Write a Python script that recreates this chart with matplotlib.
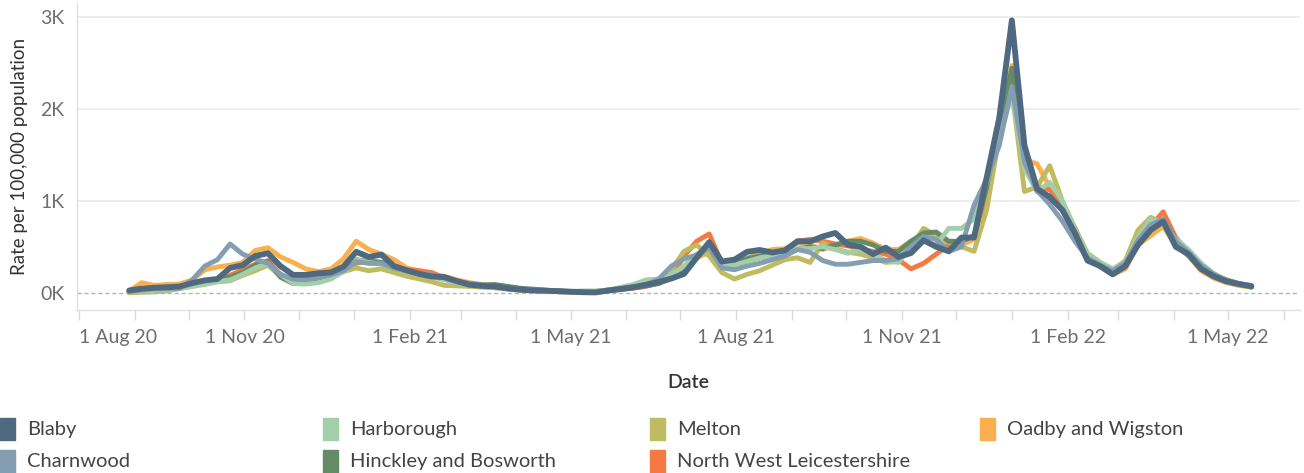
import matplotlib
matplotlib.use('Agg')
import matplotlib.pyplot as plt
import matplotlib.dates as mdates
from matplotlib.patches import Rectangle
from matplotlib.ticker import FuncFormatter, FixedLocator
import pandas as pd

# weekly readings, first week ending 29 Aug 2020
first_date = '2020-08-29'
n_weeks = 90

districts = ['Blaby', 'Charnwood', 'Harborough', 'Hinckley and Bosworth',
             'Melton', 'North West Leicestershire', 'Oadby and Wigston']
colours = ['#4f6980', '#849db1', '#a2ceaa', '#638b66', '#bfbb60', '#f47942', '#fbb04e']

blaby = [25, 45, 55, 60, 68, 105, 135, 150, 270, 300,
         400, 430, 290, 195, 195, 212, 221, 285, 445, 390,
         415, 290, 245, 205, 177, 170, 125, 87, 75, 68,
         48, 35, 26, 22, 18, 12, 6, 4, 25, 42,
         60, 88, 118, 155, 205, 380, 550, 340, 360, 445,
         465, 438, 460, 560, 558, 612, 650, 522, 500, 420,
         490, 390, 431, 570, 500, 450, 600, 600, 1250, 1900,
         2960, 1600, 1130, 1040, 900, 650, 350, 290, 200, 290,
         520, 680, 775, 500, 420, 260, 180, 125, 95, 70]
charnwood = [14, 30, 42, 45, 50, 140, 290, 360, 530, 420,
             365, 320, 200, 148, 142, 165, 195, 240, 340, 320,
             320, 268, 235, 205, 196, 160, 125, 100, 80, 66,
             50, 40, 33, 25, 18, 12, 8, 6, 28, 45,
             65, 85, 150, 290, 370, 410, 490, 270, 250, 290,
             320, 360, 400, 470, 440, 350, 310, 310, 330, 350,
             350, 370, 500, 612, 580, 450, 500, 950, 1235, 1600,
             2240, 1420, 1110, 960, 780, 560, 380, 300, 240, 320,
             570, 740, 800, 560, 440, 300, 200, 140, 100, 80]
harborough = [10, 15, 25, 30, 50, 70, 90, 120, 140, 200,
              270, 320, 200, 100, 95, 110, 150, 230, 360, 330,
              310, 270, 230, 200, 175, 140, 110, 90, 70, 55,
              45, 35, 25, 20, 18, 15, 20, 20, 30, 60,
              90, 140, 150, 200, 290, 420, 500, 320, 300, 340,
              380, 400, 410, 480, 480, 500, 470, 430, 470, 420,
              350, 330, 500, 560, 520, 700, 700, 800, 1200, 1700,
              2150, 1350, 1100, 1200, 1000, 680, 420, 330, 260, 330,
              600, 800, 760, 580, 470, 320, 210, 140, 95, 70]
hinckley = [15, 20, 25, 35, 55, 80, 110, 140, 170, 220,
            300, 340, 170, 100, 120, 150, 190, 260, 360, 340,
            330, 290, 240, 200, 180, 150, 120, 100, 85, 90,
            70, 50, 40, 30, 20, 12, 10, 15, 25, 40,
            55, 75, 100, 160, 230, 380, 520, 330, 320, 370,
            400, 420, 440, 470, 500, 480, 520, 560, 560, 520,
            450, 450, 560, 650, 660, 560, 560, 620, 1150, 1800,
            2440, 1500, 1100, 1050, 900, 680, 400, 310, 220, 300,
            560, 720, 790, 580, 460, 300, 200, 140, 100, 75]
melton = [0, 5, 10, 20, 45, 70, 100, 120, 130, 190,
          240, 300, 180, 120, 130, 150, 180, 230, 270, 240,
          260, 220, 180, 150, 120, 80, 75, 70, 60, 55,
          40, 25, 20, 15, 12, 10, 10, 12, 30, 45,
          60, 90, 130, 250, 450, 520, 400, 220, 150, 200,
          240, 300, 360, 380, 330, 540, 480, 440, 420, 380,
          330, 340, 500, 700, 620, 550, 500, 450, 900, 1700,
          2200, 1100, 1150, 1380, 1000, 700, 430, 330, 250, 350,
          680, 820, 760, 520, 400, 260, 170, 120, 90, 60]
nw_leics = [10, 15, 20, 30, 50, 80, 110, 150, 190, 250,
            310, 350, 200, 130, 130, 150, 190, 250, 320, 350,
            330, 290, 250, 240, 220, 160, 130, 100, 80, 65,
            50, 40, 30, 20, 12, 8, 6, 10, 20, 35,
            50, 70, 110, 160, 400, 560, 640, 320, 280, 350,
            380, 400, 420, 560, 580, 560, 530, 510, 470, 450,
            420, 360, 260, 320, 420, 520, 560, 620, 1000, 1700,
            2350, 1400, 1150, 1120, 950, 700, 400, 310, 220, 300,
            550, 720, 880, 600, 440, 290, 190, 130, 90, 65]
oadby = [20, 110, 80, 90, 95, 140, 250, 280, 300, 330,
         460, 490, 390, 330, 260, 230, 260, 370, 560, 470,
         420, 360, 270, 240, 200, 180, 140, 110, 90, 70,
         55, 40, 28, 20, 12, 8, 8, 15, 30, 45,
         65, 90, 120, 160, 260, 380, 440, 310, 320, 380,
         420, 470, 480, 540, 520, 470, 520, 560, 590, 540,
         470, 470, 560, 600, 600, 520, 520, 580, 1100, 1750,
         2470, 1450, 1400, 1150, 950, 700, 390, 280, 200, 260,
         520, 620, 720, 520, 400, 240, 160, 110, 80, 60]

series = [blaby, charnwood, harborough, hinckley, melton, nw_leics, oadby]

plt.rcParams['font.family'] = ['Lato', 'DejaVu Sans']

dates = pd.date_range(first_date, periods=n_weeks, freq='7D')

fig = plt.figure(figsize=(13.04, 4.73), dpi=100)
ax = fig.add_axes([0.059, 0.345, 0.938, 0.649])

# draw Blaby last so it sits on top
for name, vals, col in reversed(list(zip(districts, series, colours))):
    lw = 4.2 if name == 'Blaby' else 3.5
    ax.plot(dates, vals, color=col, lw=lw, solid_joinstyle='round',
            solid_capstyle='round')

ax.set_xlim(pd.Timestamp('2020-07-31'), pd.Timestamp('2022-06-10'))
ax.set_ylim(-185, 3150)

ax.yaxis.set_major_locator(FixedLocator([0, 1000, 2000, 3000]))
ax.yaxis.set_major_formatter(FuncFormatter(lambda v, p: f'{v/1000:.0f}K'))
for v in [1000, 2000, 3000]:
    ax.axhline(v, color='#ebebeb', lw=1.2, zorder=0)
ax.axhline(0, color='#b5b5b5', lw=1, ls=(0, (3, 2)), zorder=0)

ax.xaxis.set_major_locator(mdates.MonthLocator(bymonth=[2, 5, 8, 11]))
ax.xaxis.set_minor_locator(mdates.MonthLocator())
ax.xaxis.set_major_formatter(FuncFormatter(
    lambda v, p: f"{mdates.num2date(v).day} {mdates.num2date(v).strftime('%b %y')}"))

ax.tick_params(axis='y', length=0, labelsize=14, labelcolor='#6e6e6e', pad=9)
ax.tick_params(axis='x', which='both', length=7, color='#d9d9d9', width=1,
               labelsize=14, labelcolor='#6e6e6e', pad=7)

for s in ['top', 'right']:
    ax.spines[s].set_visible(False)
for s in ['left', 'bottom']:
    ax.spines[s].set_color('#e0e0e0')
    ax.spines[s].set_linewidth(1)

ax.set_ylabel('Rate per 100,000 population', fontsize=13.5, color='#333333', labelpad=9)
ax.set_xlabel('Date', fontsize=14, color='#333333', fontweight='semibold', labelpad=20)

fig.canvas.draw()
first = ax.get_xticklabels()[0]
first.set_horizontalalignment('left')

# legend in a 4-column grid
col_x = [0.0, 0.2477, 0.4985, 0.7515]
row_y = [0.093, 0.025]
for i, (name, col) in enumerate(zip(districts, colours)):
    c, r = divmod(i, 2)
    x0, y0 = col_x[c], row_y[r]
    fig.patches.append(Rectangle((x0, y0 - 0.024), 0.0115, 0.048, color=col,
                                 transform=fig.transFigure, figure=fig))
    fig.text(x0 + 0.021, y0, name, fontsize=14.5, color='#444444', va='center')

fig.savefig('out.png', dpi=100)
